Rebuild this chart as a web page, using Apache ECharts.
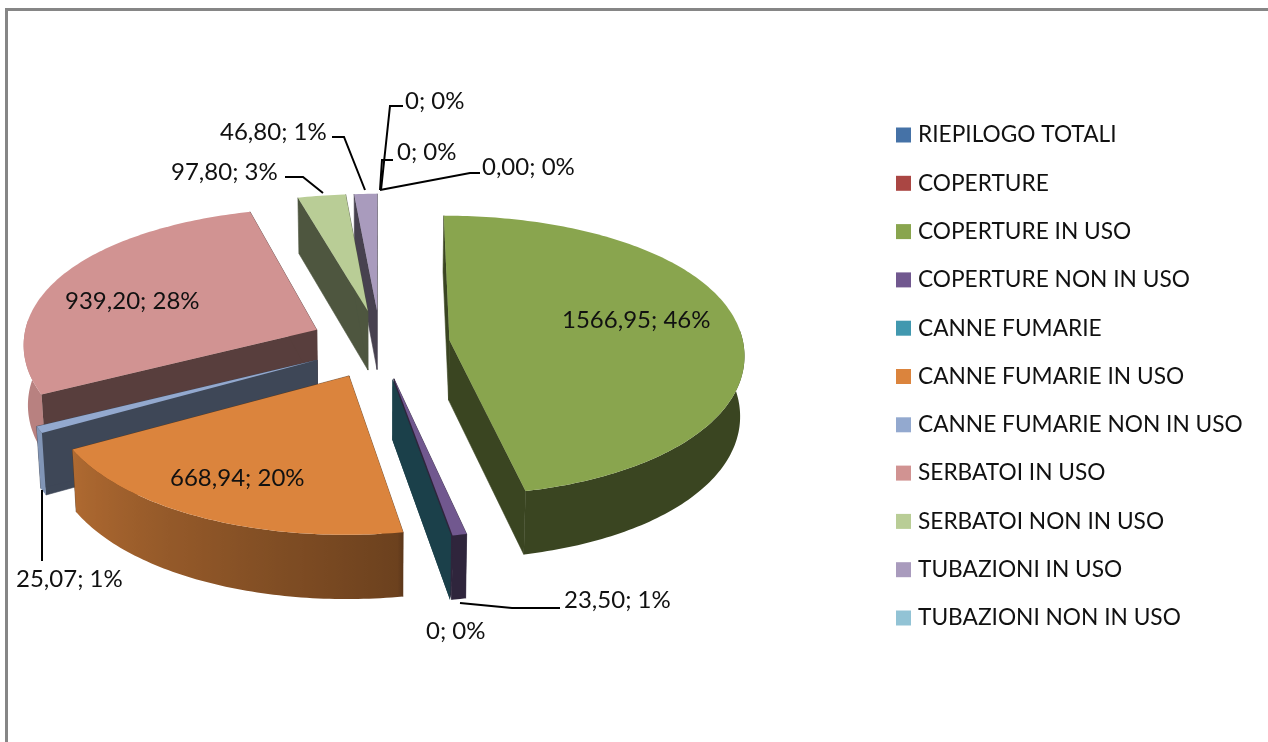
<!DOCTYPE html>
<html><head><meta charset="utf-8">
<style>html,body{margin:0;padding:0;background:#fff}#c{width:1268px;height:742px}</style>
<script src="https://cdn.jsdelivr.net/npm/echarts@6/dist/echarts.min.js"></script>
</head><body><div id="c"></div>
<script>
const categories = ['RIEPILOGO TOTALI','COPERTURE','COPERTURE IN USO','COPERTURE NON IN USO','CANNE FUMARIE','CANNE FUMARIE IN USO','CANNE FUMARIE NON IN USO','SERBATOI IN USO','SERBATOI NON IN USO','TUBAZIONI IN USO','TUBAZIONI NON IN USO'];
const values = [0,0,1566.95,23.50,0,668.94,25.07,939.20,97.80,46.80,0];
const valueLabels = ['0; 0%','0; 0%','1566,95; 46%','23,50; 1%','0; 0%','668,94; 20%','25,07; 1%','939,20; 28%','97,80; 3%','46,80; 1%','0,00; 0%'];
const colors = ['#4572A7','#AA4643','#89A54E','#71588F','#4198AF','#DB843D','#93A9CF','#D19392','#B9CD96','#A99BBD','#92C3D5'];
const paintOrder = [0,1,9,8,7,6,5,3,4,2,10];

// label text top-left corners and leader lines, indexed like categories
const labelBoxes = [[405,89],[397,140],[562,308],[564,588],[426,619],[170,466],[16,567],[65,289],[171,160],[220,120],[482,155]];
const leaders = [
  [[403,106],[390,106],[381,190]],
  [[393,160],[382,160],[380,190]],
  null,
  [[560,608],[512,608],[460,603]],
  null, null,
  [[42,490],[42,561]],
  null,
  [[285,177],[303,177],[323,193]],
  [[332,137],[344,137],[365,190]],
  [[480,173],[470,173],[380,190]]
];

const C = {cx:380, cy:344, explode:70, R:294, k:0.5, bx:0.0003, byBack:0.00058, byFront:0.00018, depth:60, depthSlope:0.012, shrink:0.988};
const total = values.reduce((a,b)=>a+b,0);
const rad = d => d*Math.PI/180;
function shade(hex,f){
  const n=parseInt(hex.slice(1),16);
  return 'rgb('+[(n>>16)&255,(n>>8)&255,n&255].map(v=>Math.round(v*f)).join(',')+')';
}
function wallFactor(t){
  if(t<170) return 0.42;
  if(t<241) return 0.49+(t-170)/71*0.31;
  return 0.88;
}
function project(X,Z,lower){
  const sx=1/(1+C.bx*Z), sy=1/(1+(Z>0?C.byBack:C.byFront)*Z);
  let x=C.cx+X*sx, y=C.cy-C.k*Z*sy;
  if(lower){ x=C.cx+(x-C.cx)*C.shrink; y+=C.depth-C.depthSlope*Z; }
  return [x,y];
}
let acc=0;
const spans = values.map(v=>{const s=acc/total*360; acc+=v; return [s,acc/total*360];});

function sliceRender(i){
  return function(params,api){
    const [a0,a1]=spans[i];
    const mid=(a0+a1)/2;
    const eX=C.explode*Math.sin(rad(mid)), eZ=C.explode*Math.cos(rad(mid));
    const rim=(t,lower)=>project(eX+C.R*Math.sin(rad(t)),eZ+C.R*Math.cos(rad(t)),lower);
    const apex=project(eX,eZ,false), apexLow=project(eX,eZ,true);
    const color=api.visual('color');
    const cutColor=shade(colors[i],0.42);
    const kids=[];
    const width=a1>a0?0.6:0;
    const face=t=>kids.push({type:'polygon',shape:{points:[apex,rim(t,false),rim(t,true),apexLow]},style:{fill:cutColor,stroke:width?cutColor:null,lineWidth:width}});
    face(a0); face(a1);
    // outer wall: one polygon filled with a gradient that follows the lighting angle
    const vis=[];
    for(let t=a0;t<=a1;t+=1){ if(Math.cos(rad(t))<=0.08) vis.push(t); }
    if(a1>a0 && Math.cos(rad(a1))<=0.08) vis.push(a1);
    if(vis.length>1){
      const up=vis.map(t=>rim(t,false)), down=vis.map(t=>rim(t,true)).reverse();
      const xs=up.map(p=>p[0]), minX=Math.min(...xs), maxX=Math.max(...xs);
      const stops=vis.map((t,j)=>({offset:(xs[j]-minX)/(maxX-minX),color:shade(colors[i],wallFactor(t))})).sort((a,b)=>a.offset-b.offset);
      kids.push({type:'polygon',shape:{points:up.concat(down)},style:{fill:new echarts.graphic.LinearGradient(minX,0,maxX,0,stops,true)}});
    }
    if(a1>a0){
      const arc=[apex];
      for(let t=a0;t<a1;t+=1) arc.push(rim(t,false));
      arc.push(rim(a1,false));
      kids.push({type:'polygon',shape:{points:arc},style:{fill:color}});
    }
    return {type:'group',children:kids};
  };
}
function labelRender(params,api){
  const i=api.value(0), kids=[];
  if(leaders[i]) kids.push({type:'polyline',shape:{points:leaders[i]},style:{fill:null,stroke:'#000',lineWidth:2}});
  kids.push({type:'text',x:labelBoxes[i][0],y:labelBoxes[i][1],style:{text:valueLabels[i],fill:'#111',font:'24px Lato',textAlign:'left',textVerticalAlign:'top'}});
  return {type:'group',children:kids};
}
const series = categories.map((name,i)=>({
  type:'custom',name:name,coordinateSystem:'none',
  z:2+paintOrder.indexOf(i),
  itemStyle:{color:colors[i]},
  data:[[values[i]]],
  renderItem:sliceRender(i),silent:true
}));
series.push({type:'custom',name:'labels',coordinateSystem:'none',z:30,silent:true,
  data:categories.map((n,i)=>[i]),renderItem:labelRender});

const chart=echarts.init(document.getElementById('c'),null,{renderer:'canvas'});
chart.setOption({
  animation:false,
  backgroundColor:'#fff',
  graphic:[{type:'rect',shape:{x:6.5,y:9.5,width:1400,height:1000},style:{fill:null,stroke:'#868686',lineWidth:3},z:1,silent:true}],
  legend:{data:categories,orient:'vertical',left:891,top:118,itemWidth:15,itemHeight:15,itemGap:24.3,icon:'rect',selectedMode:false,
    textStyle:{fontFamily:'Lato',fontSize:22.7,color:'#111',height:24,lineHeight:24,padding:[0,0,0,2]}},
  series:series
});
</script></body></html>
